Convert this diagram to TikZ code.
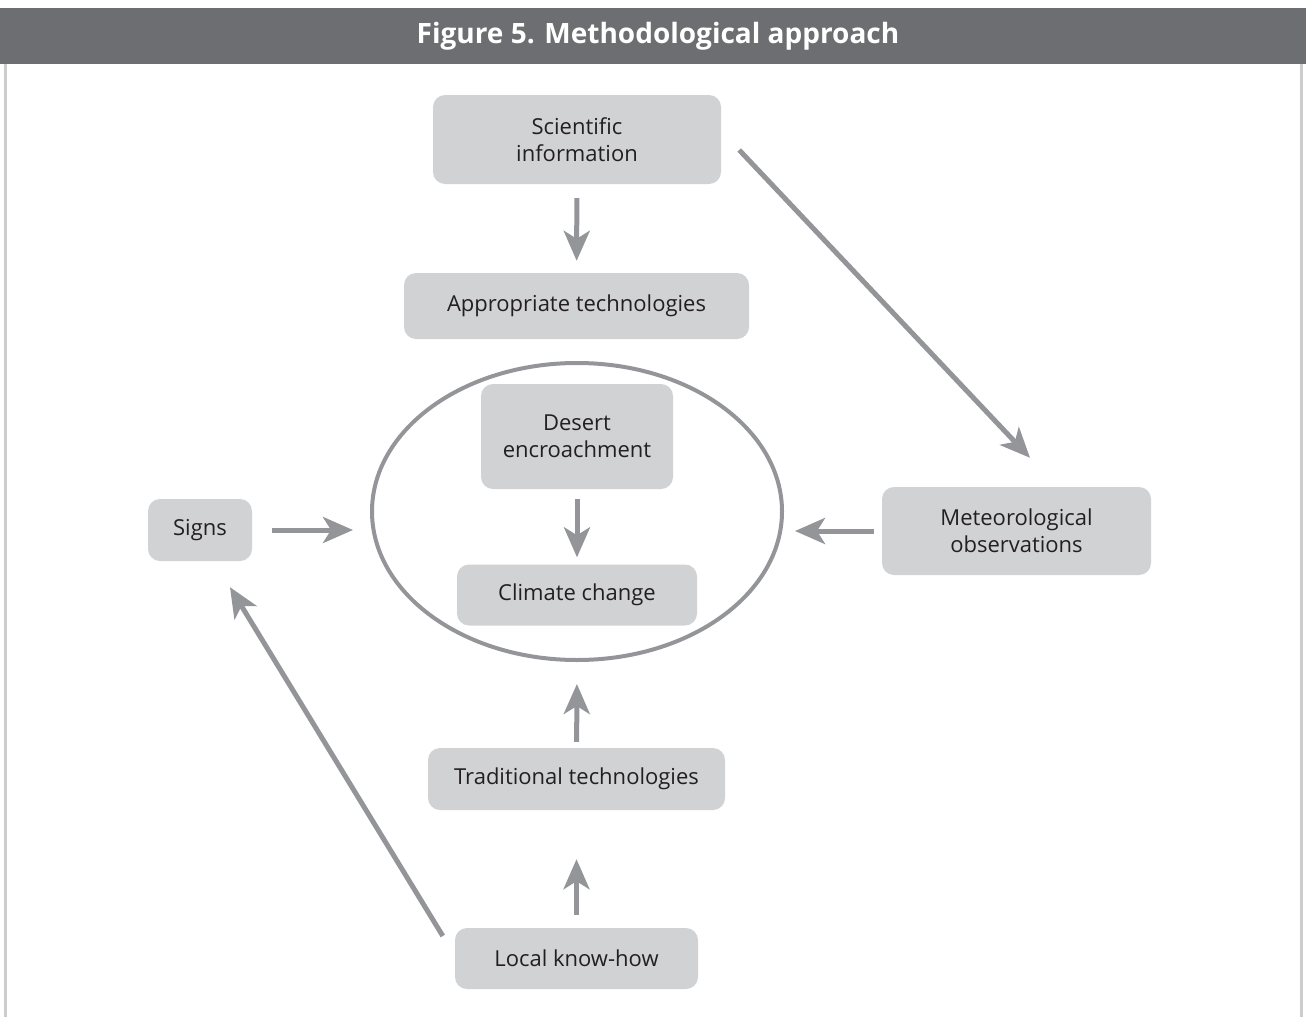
\documentclass[tikz,border=0pt]{standalone}
\usepackage{fontspec}
\setmainfont{Open Sans}
\usepackage{tikz}
\usetikzlibrary{arrows.meta, calc, shapes.geometric}
\definecolor{headgray}{RGB}{109, 110, 113}
\definecolor{framegray}{RGB}{204, 205, 207}
\definecolor{boxgray}{RGB}{209, 210, 212}
\definecolor{arrowgray}{RGB}{147, 149, 152}
\definecolor{textgray}{RGB}{35, 31, 32}

\tikzset{
	stepbox/.style={fill=boxgray, rounded corners=12pt, align=center,
		text=textgray, font=\fontsize{22}{27}\selectfont, inner sep=0pt},
	flowarrow/.style={draw=arrowgray, line width=5pt,
		-{Stealth[length=30pt, width=26pt, inset=8pt]}},
}

\begin{document}
\begin{tikzpicture}[x=1pt, y=-1pt]
	\useasboundingbox (0,0) rectangle (1306,1017);

	% header band and frame
	\fill[headgray] (0,8) rectangle (1306,64);
	\draw[framegray, line width=3pt] (5.5,64) -- (5.5,1017);
	\draw[framegray, line width=3pt] (1301.5,64) -- (1301.5,1017);
	\node[text=white, font=\fontsize{28}{32}\selectfont\bfseries] (title) at (658,36) {Figure 5. Methodological approach};

	% boxes
	\node[stepbox, minimum width=288pt, minimum height=89pt] (sci) at (577,139.5) {Scientific\\information};
	\node[stepbox, minimum width=345pt, minimum height=66pt] (app) at (576.5,306) {Appropriate technologies};
	\node[stepbox, minimum width=192pt, minimum height=105pt] (des) at (577,436.5) {Desert\\encroachment};
	\node[stepbox, minimum width=240pt, minimum height=61pt] (cli) at (577,595) {Climate change};
	\node[stepbox, minimum width=104pt, minimum height=62pt] (sig) at (200,530) {Signs};
	\node[stepbox, minimum width=269pt, minimum height=88pt] (met) at (1016.5,531) {Meteorological\\observations};
	\node[stepbox, minimum width=297pt, minimum height=62pt] (tra) at (576.5,779) {Traditional technologies};
	\node[stepbox, minimum width=243pt, minimum height=61pt] (loc) at (576.5,958.5) {Local know-how};

	% ring round the core
	\node[draw=arrowgray, line width=4pt, ellipse, minimum width=410pt, minimum height=297pt, inner sep=0pt] (core) at (577,511.5) {};

	% arrows
	\draw[flowarrow, shorten <=14pt, shorten >=12pt] (sci) -- (app);
	\draw[flowarrow] ($(sci.east)+(18,10.5)$) -- ($(met.north)+(13.5,-29)$);
	\draw[flowarrow, shorten <=10pt, shorten >=7pt] (des) -- (cli);
	\draw[flowarrow, shorten <=20pt, shorten >=17pt] (sig.east) -- (sig.east -| core.west);
	\draw[flowarrow, shorten <=8pt, shorten >=11pt] (met.west) -- (met.west -| core.east);
	\draw[flowarrow, shorten <=6pt, shorten >=22pt] (tra) -- (core.south);
	\draw[flowarrow, shorten <=13pt, shorten >=49pt] (loc) -- (tra);
	\draw[flowarrow] ($(loc.west)+(-12,-22.5)$) -- ($(sig.south)+(30,26)$);
\end{tikzpicture}
\end{document}
